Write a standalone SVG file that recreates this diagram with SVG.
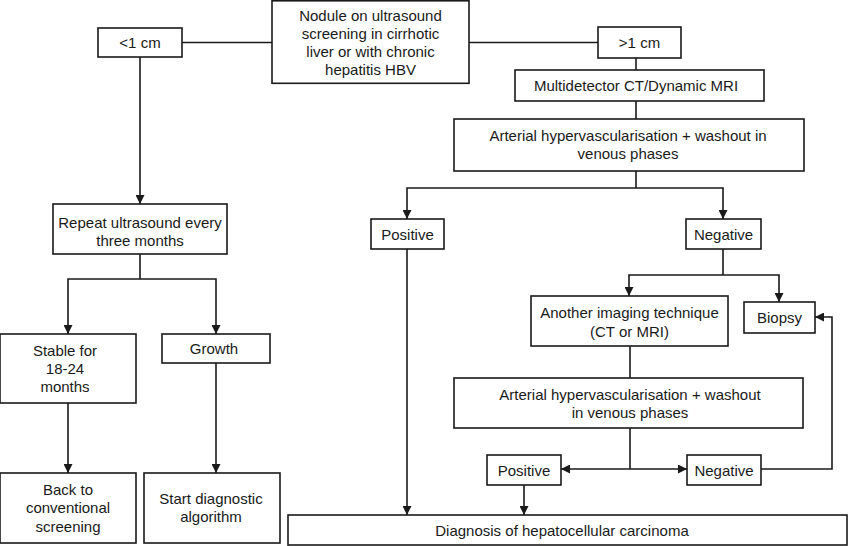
<svg xmlns="http://www.w3.org/2000/svg" width="850" height="546" viewBox="0 0 850 546">
<style>
.box{fill:#fff;stroke:#1a1a1a;stroke-width:1.6}
.t{font-family:"Liberation Sans",Arial,sans-serif;font-size:15px;fill:#1a1a1a;text-anchor:middle}
.c{fill:none;stroke:#1a1a1a;stroke-width:1.6}
</style>
<defs>
<marker id="ah" viewBox="0 0 10 10" refX="10" refY="5" markerWidth="9" markerHeight="9" markerUnits="userSpaceOnUse" orient="auto-start-reverse">
<path d="M0,0 L10,5 L0,10 z" fill="#1a1a1a"/>
</marker>
</defs>
<rect width="850" height="546" fill="#fff"/>
<g id="connectors">
<path class="c" d="M272,42.5 H182"/>
<path class="c" d="M469,42.5 H598"/>
<path class="c" d="M140,57 V204" marker-end="url(#ah)"/>
<path class="c" d="M636,58 V70"/>
<path class="c" d="M636,101 V119"/>
<path class="c" d="M636,171 V188"/>
<path class="c" d="M407,219 V188 H723 V219" marker-start="url(#ah)" marker-end="url(#ah)"/>
<path class="c" d="M407,249 V515" marker-end="url(#ah)"/>
<path class="c" d="M723,249 V275"/>
<path class="c" d="M629,296 V275 H779 V302" marker-start="url(#ah)" marker-end="url(#ah)"/>
<path class="c" d="M630,346 V378"/>
<path class="c" d="M630,428 V469"/>
<path class="c" d="M561,469 H687" marker-start="url(#ah)" marker-end="url(#ah)"/>
<path class="c" d="M761,469 H832 V317 H815" marker-end="url(#ah)"/>
<path class="c" d="M524,485 V515" marker-end="url(#ah)"/>
<path class="c" d="M140,254 V279"/>
<path class="c" d="M68,334 V279 H216 V334" marker-start="url(#ah)" marker-end="url(#ah)"/>
<path class="c" d="M68,403 V473" marker-end="url(#ah)"/>
<path class="c" d="M216,363 V473" marker-end="url(#ah)"/>
</g>
<g id="n-nodule"><rect class="box" x="272" y="0.8" width="197" height="82.5"/>
<text class="t" x="370.5" y="20.5">Nodule on ultrasound</text>
<text class="t" x="370.5" y="38.5">screening in cirrhotic</text>
<text class="t" x="370.5" y="56.5">liver or with chronic</text>
<text class="t" x="370.5" y="74.5">hepatitis HBV</text></g>
<g id="n-lt1"><rect class="box" x="98" y="28" width="84" height="29"/>
<text class="t" x="140" y="48">&lt;1 cm</text></g>
<g id="n-gt1"><rect class="box" x="598" y="27" width="83" height="31"/>
<text class="t" x="639.5" y="48">&gt;1 cm</text></g>
<g id="n-multi"><rect class="box" x="515" y="70" width="249" height="31"/>
<text class="t" x="636" y="91">Multidetector CT/Dynamic MRI</text></g>
<g id="n-art1"><rect class="box" x="454" y="119" width="350" height="52"/>
<text class="t" x="628" y="141">Arterial hypervascularisation + washout in</text>
<text class="t" x="628" y="159">venous phases</text></g>
<g id="n-pos1"><rect class="box" x="371" y="219" width="73" height="30"/>
<text class="t" x="407.5" y="239.5">Positive</text></g>
<g id="n-neg1"><rect class="box" x="686" y="219" width="75" height="30"/>
<text class="t" x="723.5" y="239.5">Negative</text></g>
<g id="n-another"><rect class="box" x="531" y="296" width="197" height="50"/>
<text class="t" x="629.5" y="318">Another imaging technique</text>
<text class="t" x="629.5" y="337">(CT or MRI)</text></g>
<g id="n-biopsy"><rect class="box" x="744" y="302" width="71" height="31"/>
<text class="t" x="779.5" y="322.5">Biopsy</text></g>
<g id="n-art2"><rect class="box" x="454" y="378" width="349" height="50"/>
<text class="t" x="630" y="400">Arterial hypervascularisation + washout</text>
<text class="t" x="630" y="418">in venous phases</text></g>
<g id="n-pos2"><rect class="box" x="487" y="455" width="74" height="30"/>
<text class="t" x="524" y="475.5">Positive</text></g>
<g id="n-neg2"><rect class="box" x="687" y="455" width="74" height="30"/>
<text class="t" x="724" y="475.5">Negative</text></g>
<g id="n-diag"><rect class="box" x="288" y="515" width="559" height="30"/>
<text class="t" x="562" y="535.5">Diagnosis of hepatocellular carcinoma</text></g>
<g id="n-repeat"><rect class="box" x="53" y="204" width="174" height="50"/>
<text class="t" x="140" y="228">Repeat ultrasound every</text>
<text class="t" x="140" y="246">three months</text></g>
<g id="n-stable"><rect class="box" x="0" y="334" width="136" height="69"/>
<text class="t" x="65" y="356">Stable for</text>
<text class="t" x="65" y="374">18-24</text>
<text class="t" x="65" y="392">months</text></g>
<g id="n-growth"><rect class="box" x="162" y="334" width="108" height="29"/>
<text class="t" x="214" y="353.5">Growth</text></g>
<g id="n-back"><rect class="box" x="0" y="473" width="136" height="70"/>
<text class="t" x="68" y="495">Back to</text>
<text class="t" x="68" y="513">conventional</text>
<text class="t" x="68" y="532">screening</text></g>
<g id="n-start"><rect class="box" x="144" y="473" width="136" height="70"/>
<text class="t" x="211" y="504">Start diagnostic</text>
<text class="t" x="211" y="522">algorithm</text></g>
</svg>
